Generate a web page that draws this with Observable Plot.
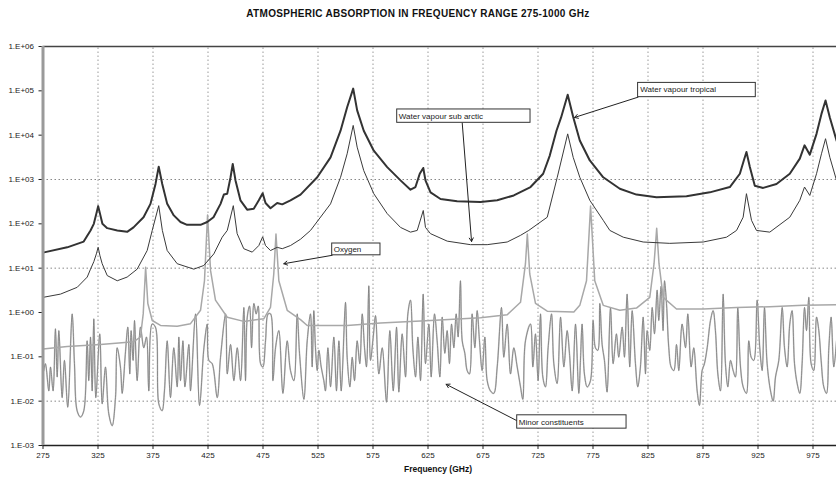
<!DOCTYPE html>
<html><head><meta charset="utf-8">
<script src="https://cdn.jsdelivr.net/npm/d3@7"></script>
<script src="https://cdn.jsdelivr.net/npm/@observablehq/plot@0.6"></script>
<style>
body{margin:0;background:#fff;}
#wrap{position:relative;width:836px;height:482px;overflow:hidden;}
#title{position:absolute;z-index:2;left:0;top:8px;width:836px;text-align:center;font:bold 10px "Liberation Sans",Arial,sans-serif;color:#111;letter-spacing:0.3px;}
#xlabel{position:absolute;z-index:2;left:0;top:464px;width:876px;text-align:center;font:bold 8.5px "Liberation Sans",Arial,sans-serif;color:#111;}
#wrap svg{max-width:none !important;position:absolute;left:0;top:0;z-index:1;}
</style></head><body>
<div id="wrap"><div id="title">ATMOSPHERIC ABSORPTION IN FREQUENCY RANGE 275-1000 GHz</div><div id="xlabel">Frequency (GHz)</div></div>
<script>
// ---- tick labels ----
const xTicks = [275,325,375,425,475,525,575,625,675,725,775,825,875,925,975];
const yTicks = [1e-3,1e-2,1e-1,1e0,1e1,1e2,1e3,1e4,1e5,1e6];
const yGridValues = [1e3,1e1,1e-2];

// ---- Water vapour tropical ----
const tropicalFreq = [275,297,312,318.2,321.2,323.5,325.15,326.8,329,333.4,342.5,351.5,357.3,366.4,372.7,377.3,380.2,383.4,387.9,393.9,400,406,418.2,424.3,430,436.4,439.4,442.5,445.5,447.5,450,454.5,460.6,466.6,471.2,474.7,477.3,481.8,487.9,492.5,500,509.1,524.3,536.4,545.5,551.5,557,560.6,566.6,575.7,587.9,600,609.1,613.6,617.5,620.7,622.7,627.3,636.4,651.5,672.7,687.9,703,718.2,729.7,735.7,741.8,746,752,757,763,772.1,784.3,799.4,814.5,832.7,860,881.2,899.4,908.5,912.1,914.5,917.6,922.1,929.7,941.8,953.9,963,967.3,972.1,978.2,982.7,986.4,990.3,996.4,1000];
const tropicalVal = [22.4,29.5,39.8,71,100,170,251,170,100,80,71,66,83,141,282,794,1950,794,282,155,110,95,95,110,141,282,457,479,1122,2239,955,339,209,219,339,490,295,224,295,275,339,457,1122,3162,12600,42700,112000,36300,12600,4467,1905,955,589,676,1349,1820,955,513,363,324,309,339,437,676,1349,3467,12600,25100,81300,25700,7586,2692,1122,617,457,398,417,513,676,1349,2692,4169,1905,724,646,794,1349,2951,5888,3631,10700,30200,60300,25100,7586,5000];

// ---- Water vapour sub arctic ----
const arcticFreq = [275.2,290.9,306.1,315.2,318.2,321.2,323.5,325.15,326.8,328.8,333.4,342.5,351.5,360.6,369.7,374.3,380.2,383.5,387.9,397,412.1,421.2,430.3,437.9,442.5,448,451.5,457.5,465.2,471.2,474.7,477.3,481.8,487.9,492.5,500,509.1,518.2,536.4,545.5,551.5,557,560.6,566.6,575.7,587.9,600,609.1,615.2,620.7,622.7,627.3,642.5,663.6,678.8,697,709.1,716.6,733.4,742.5,752,757,763,772.1,784.3,790.3,802.5,820.6,844.8,875.2,896.4,905.5,911.5,914.5,919.1,923.6,935.7,953.9,963,967.3,972.1,978.2,982.7,986.4,990.3,996.4,1000];
const arcticVal = [2.2,2.6,3.7,6.3,9.5,14,21,29.5,19,12.6,6.8,5.2,6.3,9.5,25,71,257,71,25,12.6,9.5,11.5,21,50,71,257,60,27.5,23,32.4,51,32.4,25,29.5,27.5,32.4,45,71,282,1122,3802,16600,5370,1585,479,170,83,65,71,200,83,60,40.7,33.9,33.9,38.9,55,71,141,1122,10700,3162,1122,339,120,71,50,38.9,36.3,38.9,50,71,141,479,120,71,65,141,339,676,437,1349,3802,8318,3162,955,600];

// ---- Oxygen ----
const oxygenFreq = [275,297,327.3,357.6,363.6,366.1,368.3,370.3,374.3,381.8,397,409.1,418.2,421.8,424.6,427.3,431.8,442.5,457.5,475.7,481.8,484.8,486.8,489.4,497,509.1,515.2,551.5,581.8,627.3,672.7,697,709.1,713.6,715.3,717.5,722.7,733.4,757.6,763,769.1,772.8,776.6,784.3,799.4,814.5,826.6,830.5,832.9,835,838.8,850.9,875.2,905.5,935.7,966.1,996.4,1000];
const oxygenVal = [0.15,0.17,0.19,0.22,0.28,0.93,10.5,1.6,0.66,0.51,0.49,0.56,1.12,5.2,158,8.9,1.9,0.78,0.63,0.72,1.3,7.4,59,5.2,1.12,0.69,0.51,0.51,0.58,0.66,0.76,0.89,1.7,12.6,59,7.4,1.6,1.07,1.02,1.45,5.2,251,5.2,1.45,1.12,1.26,2.2,12.6,79,12.6,2.2,1.2,1.2,1.3,1.35,1.45,1.5,1.5];

// ---- Minor constituents ----
const minorFreq = [275.7,277.2,280.3,281.8,284.2,286.3,287.9,289.4,292.4,294.5,297.5,301.5,303.6,306.0,309.1,312.1,315.1,316.6,318.2,319.7,321.2,323.0,326.6,328.8,331.8,334.8,337.9,340.9,342.4,345.4,347.0,350.0,352.1,353.9,355.1,356.9,358.2,360.6,363.6,366.6,369.1,371.2,374.2,377.2,380.3,383.3,385.4,387.9,390.9,393.9,
397.0,398.5,400.0,402.2,404.0,407.6,409.1,413.7,417.3,421.3,424.3,425.8,428.8,433.4,436.4,441.0,442.5,445.5,448.5,451.6,454.6,457.6,459.1,460.7,462.8,464.6,466.7,468.8,470.7,472.8,474.9,477.3,479.7,481.9,484.0,486.4,489.4,493.1,497.0,500.0,503.1,506.1,508.2,512.2,515.2,
518.2,519.7,521.2,522.7,524.3,525.8,527.9,530.3,531.8,534.0,536.4,539.4,541.8,544.0,546.1,550.0,551.5,554.0,556.1,558.2,560.6,563.0,565.2,567.3,569.1,571.2,572.7,575.2,577.3,580.3,583.4,587.3,590.3,593.4,596.4,598.5,601.5,604.6,606.7,609.1,611.2,613.7,615.8,618.2,620.6,622.7,625.8,627.9,630.9,633.3,635.8,637.9,640.3,
642.4,644.5,646.4,648.5,650.6,652.4,654.5,656.1,658.5,660.6,662.7,665.1,667.6,669.7,671.8,674.2,676.7,678.8,681.8,684.8,687.9,691.8,693.9,697.0,700.0,703.0,706.1,709.1,711.2,713.6,718.2,720.3,722.7,725.1,727.3,729.4,731.8,734.2,737.3,739.4,742.4,745.5,748.5,751.5,753.6,756.1,759.1,762.1,
763.6,765.1,767.2,769.7,772.7,775.1,777.2,779.4,781.2,783.3,785.4,787.8,790.9,793.3,796.3,798.4,801.5,803.6,806.0,808.4,810.6,813.6,815.7,818.1,820.6,822.7,824.2,826.6,828.8,830.9,833.3,834.8,836.9,838.7,840.0,841.8,843.9,846.0,848.5,850.9,853.0,856.0,859.1,861.2,864.2,866.6,869.7,871.8,874.2,876.3,878.8,881.8,884.2,
886.3,888.5,890.9,893.3,895.4,897.6,900.0,902.4,904.5,906.6,909.1,911.5,914.5,916.6,918.8,921.2,924.2,926.6,928.8,930.9,933.3,936.4,938.8,940.9,943.9,947.0,949.1,951.5,953.9,956.0,958.2,960.6,963.0,965.1,967.3,969.1,971.2,973.3,975.7,978.2,980.3,982.4,984.8,987.3,989.4,991.5,993.9,996.4];
const minorVal = [0.049,0.070,0.017,0.059,0.017,0.43,0.035,0.39,0.012,0.083,0.0073,0.93,0.070,0.0061,0.0044,0.0061,0.23,0.029,0.28,0.017,0.72,0.012,0.33,0.0087,0.059,0.0052,0.0028,0.012,0.16,0.059,0.015,0.13,0.47,0.041,0.39,0.083,0.66,0.029,0.47,0.16,0.28,0.017,0.55,0.47,0.0087,0.0061,0.017,0.23,0.012,0.16,
0.021,0.28,0.029,0.23,0.021,0.19,0.017,0.93,0.0080,0.16,0.55,0.083,0.070,0.012,0.098,0.93,0.041,0.19,0.029,0.16,0.029,1.3,0.029,0.79,1.4,0.16,1.6,0.93,1.4,0.070,0.059,0.23,0.93,0.93,0.029,0.16,0.39,0.015,0.23,0.049,0.029,0.93,0.12,0.011,0.23,
0.93,0.059,1.1,0.16,0.049,0.14,0.059,0.029,0.017,0.16,0.021,0.28,0.017,0.23,0.017,1.7,0.098,0.021,0.098,0.029,0.23,0.070,0.93,0.16,0.059,4.0,0.083,0.28,0.85,0.041,0.16,0.0095,0.39,0.017,0.47,0.016,0.33,0.035,0.93,1.9,0.16,0.035,0.28,0.029,2.6,0.070,0.55,0.035,0.93,0.23,0.035,0.79,0.12,
0.39,0.070,0.55,0.16,0.93,0.28,5.2,0.23,0.12,0.049,0.041,0.93,0.16,1.1,0.23,0.049,0.28,0.029,0.017,0.015,0.059,1.3,0.098,0.55,0.041,0.16,0.059,0.021,0.011,0.23,0.55,0.059,0.33,0.029,0.93,0.035,0.021,0.16,0.93,0.070,0.025,0.79,0.059,0.39,0.12,0.017,0.55,0.015,
0.083,0.55,0.041,0.021,0.029,0.66,0.16,0.14,1.6,0.19,0.083,0.016,1.3,0.070,0.33,0.098,0.47,0.098,2.6,0.059,1.1,0.070,0.021,0.059,0.79,0.041,0.39,0.14,1.3,0.33,3.2,0.66,3.9,0.39,5.2,1.6,0.16,0.059,0.049,0.19,0.049,0.55,0.16,0.93,0.059,0.16,0.017,0.0080,0.049,0.070,0.16,0.66,1.1,
0.39,0.041,0.017,2.6,0.070,0.021,0.083,0.049,0.035,1.3,0.059,0.021,0.015,0.23,0.098,0.083,1.9,0.16,0.049,1.3,0.070,0.017,0.010,0.035,0.083,1.3,0.16,0.059,0.55,1.1,0.070,0.025,0.015,0.070,1.3,0.39,2.2,0.070,0.049,0.79,0.39,0.083,0.021,0.015,0.16,0.79,0.059,0.23];

// ---- annotations ----
const annLabel = ["Water vapour tropical","Water vapour sub arctic","Oxygen","Minor constituents"];
const annBoxX1 = [816,597,537.9,706.1];
const annBoxX2 = [923,718.2,581.8,805.5];
const annBoxY1 = [151000,38000,36,0.0048];
const annBoxY2 = [72000,19000,19.5,0.0024];
const annTextX = [818,598.5,539.3,707.5];
const annTextY = [105000,27000,26,0.0034];
const annFromX = [816,656.1,537.9,706.1];
const annFromY = [72000,19000,19.5,0.0036];
const annToX = [758.2,664.6,493.9,641.5];
const annToY = [25100,40,12.6,0.024];
const annDash = ["3,2","none","3,2","none"];

const toRows = (f, v) => f.map((d, i) => ({f: d, v: v[i]}));
const tropical = toRows(tropicalFreq, tropicalVal);
const arctic = toRows(arcticFreq, arcticVal);
const oxygen = toRows(oxygenFreq, oxygenVal);
const minor = toRows(minorFreq, minorVal);
const ann = annLabel.map((l, i) => ({l, x1: annBoxX1[i], x2: annBoxX2[i], y1: annBoxY1[i], y2: annBoxY2[i], tx: annTextX[i], ty: annTextY[i], fx: annFromX[i], fy: annFromY[i], px: annToX[i], py: annToY[i], dash: annDash[i]}));

const fmtY = d => { const e = Math.round(Math.log10(d)); return "1.E" + (e < 0 ? "-" : "+") + String(Math.abs(e)).padStart(2, "0"); };

const chart = Plot.plot({
  width: 836,
  height: 482,
  marginTop: 46,
  marginBottom: 37,
  marginLeft: 42.5,
  marginRight: 0,
  style: {fontFamily: "'Liberation Sans', Arial, sans-serif", fontSize: "8px", color: "#222", background: "white"},
  x: {domain: [275, 1000], range: [42.5, 840], ticks: xTicks, tickSize: 4, tickPadding: 3, label: null},
  y: {type: "log", domain: [1e-3, 1e6], ticks: yTicks, tickFormat: fmtY, tickSize: 4, tickPadding: 5, label: null},
  marks: [
    Plot.ruleX(xTicks.slice(1), {y1: 1e-3, y2: 1e6, stroke: "#9a9a9a", strokeWidth: 1, strokeDasharray: "1.5,2.5"}),
    Plot.ruleY(yGridValues, {x1: 275, x2: 1000, stroke: "#888", strokeWidth: 1, strokeDasharray: "1.5,2.5"}),
    Plot.line(minor, {x: "f", y: "v", stroke: "#cbcbcb", strokeWidth: 1.6, curve: "catmull-rom"}),
    Plot.line(minor, {x: "f", y: "v", stroke: "#7a7a7a", strokeWidth: 0.8, curve: "catmull-rom"}),
    Plot.line(oxygen, {x: "f", y: "v", stroke: "#a8a8a8", strokeWidth: 1.5}),
    Plot.line(arctic, {x: "f", y: "v", stroke: "#3a3a3a", strokeWidth: 1}),
    Plot.line(tropical, {x: "f", y: "v", stroke: "#333", strokeWidth: 2}),
    Plot.ruleY([1e6], {stroke: "#444", strokeWidth: 1.5}),
    Plot.ruleY([1e-3], {stroke: "#222", strokeWidth: 1.5}),
    Plot.ruleX([275], {y1: 1e-3, y2: 1e6, stroke: "#9a9a9a", strokeWidth: 3}),
    Plot.arrow(ann, {x1: "fx", y1: "fy", x2: "px", y2: "py", stroke: "#222", strokeWidth: 1, headLength: 6, strokeDasharray: d => d.dash}),
    Plot.rect(ann, {x1: "x1", x2: "x2", y1: "y1", y2: "y2", fill: "white", stroke: "#333", strokeWidth: 1}),
    Plot.text(ann, {x: "tx", y: "ty", text: "l", textAnchor: "start", fontSize: 8, fill: "#222"})
  ]
});
document.getElementById("wrap").appendChild(chart);
</script>
</body></html>
